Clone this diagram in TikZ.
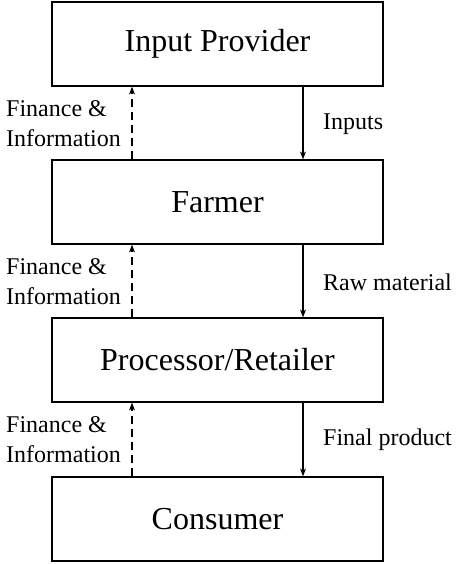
\documentclass[tikz,border=0pt]{standalone}
\usepackage{fontspec}
\setmainfont{Liberation Serif}
\usetikzlibrary{arrows.meta}
\begin{document}
\begin{tikzpicture}[x=1pt,y=-1pt,
  box/.style={draw,line width=1.2pt,minimum width=331pt,minimum height=84pt,inner sep=0pt,font=\fontsize{32}{36}\selectfont},
  lbl/.style={align=left,inner sep=0pt,font=\fontsize{24}{30}\selectfont},
  flow/.style={line width=1.2pt,-{Stealth[length=8pt,width=6pt]}},
  money/.style={line width=1.2pt,dash pattern=on 8pt off 5pt,-{Stealth[length=8pt,width=6pt]}}]
\useasboundingbox (0,0) rectangle (460,564);
\node[box] (b1) at (217.5,44) {Input Provider};
\node[box] (b2) at (217.5,202) {Farmer};
\node[box] (b3) at (217.5,360) {Processor/Retailer};
\node[box] (b4) at (217.5,519) {Consumer};
\coordinate (xs) at (303,0);
\coordinate (xd) at (132,0);
\draw[flow] (b1.south -| xs) -- (b2.north -| xs);
\draw[flow] (b2.south -| xs) -- (b3.north -| xs);
\draw[flow] (b3.south -| xs) -- (b4.north -| xs);
\draw[money] (b2.north -| xd) -- (b1.south -| xd);
\draw[money] (b3.north -| xd) -- (b2.south -| xd);
\draw[money] (b4.north -| xd) -- (b3.south -| xd);
\node[lbl,anchor=west] (f1) at (6,124) {Finance \&\\Information};
\node[lbl,anchor=west] (f2) at (6,282) {Finance \&\\Information};
\node[lbl,anchor=west] (f3) at (6,440) {Finance \&\\Information};
\node[lbl,anchor=west] (l1) at (323,124) {Inputs};
\node[lbl,anchor=west] (l2) at (323,282) {Raw material};
\node[lbl,anchor=west] (l3) at (323,440) {Final product};
\end{tikzpicture}
\end{document}
